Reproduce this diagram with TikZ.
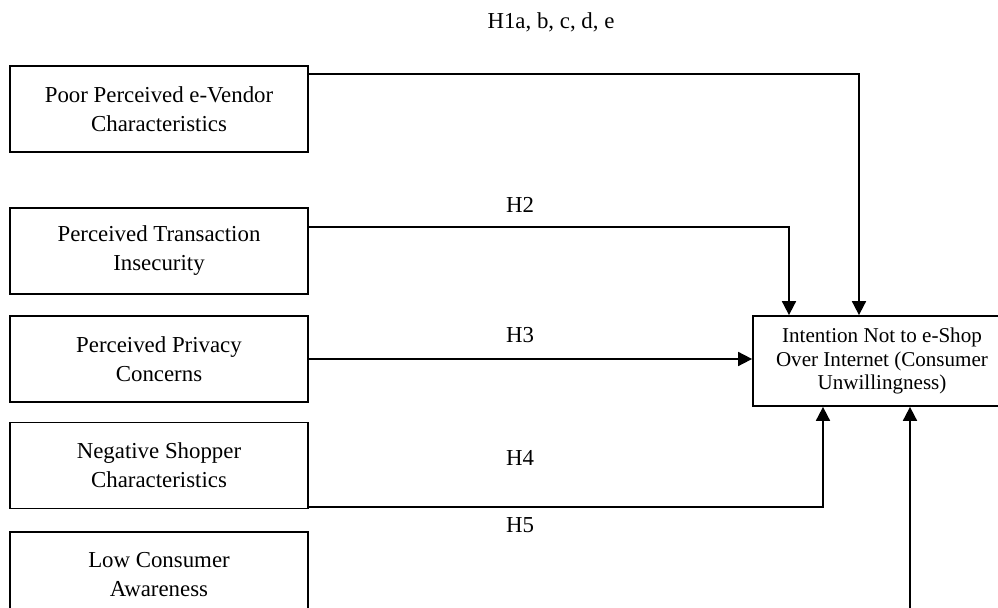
\documentclass[tikz,border=0pt]{standalone}
\usepackage{fontspec}
\setmainfont{Liberation Serif}
\usetikzlibrary{arrows.meta}

\begin{document}
\begin{tikzpicture}[>={Triangle[length=0.28cm, width=0.28cm]}, line width=1pt]
\useasboundingbox (0,0) rectangle (19.96,-12.16);

\tikzstyle{every node}=[rectangle, draw, minimum width=5.96cm, minimum height=1.72cm, align=center, font=\fontsize{13}{16.5}\selectfont]
\draw    (3.18, -2.18)  node (vendor) {Poor Perceived e-Vendor\\Characteristics}
         (3.18, -5.02)  node (trans) {Perceived Transaction\\Insecurity}
         (3.18, -7.18)  node (privacy) {Perceived Privacy\\Concerns}
         (3.18, -9.31)  node (shopper) {Negative Shopper\\Characteristics}
         (3.18, -11.5)  node (aware) {Low Consumer\\Awareness};

\tikzstyle{every node}=[rectangle, draw, minimum width=5.16cm, minimum height=1.8cm, align=center, font=\fontsize{12}{13.3}\selectfont]
\draw    (17.64, -7.22) node (unwill) {Intention Not to e-Shop\\Over Internet (Consumer\\Unwillingness)};

\tikzstyle{every node}=[draw=none, font=\fontsize{13}{16}\selectfont]
\draw    (11.02, -0.44) node (h1) {H1a, b, c, d, e}
         (10.4, -4.1)   node (h2) {H2}
         (10.4, -6.7)   node (h3) {H3}
         (10.4, -9.16)  node (h4) {H4}
         (10.4, -10.5)  node (h5) {H5};

\coordinate (h5from) at (18.2, -12.4);

\draw [->] ([yshift=-0.18cm]vendor.north east) -| ([xshift=-0.46cm]unwill.north);
\draw [->] ([yshift=-0.4cm]trans.north east) -| ([xshift=-1.86cm]unwill.north);
\draw [->] (privacy.east) -- (privacy.east -| unwill.west);
\draw [->] ([yshift=0.04cm]shopper.south east) -| ([xshift=-1.18cm]unwill.south);
\draw [->] (h5from) -- (h5from |- unwill.south);

\end{tikzpicture}
\end{document}
